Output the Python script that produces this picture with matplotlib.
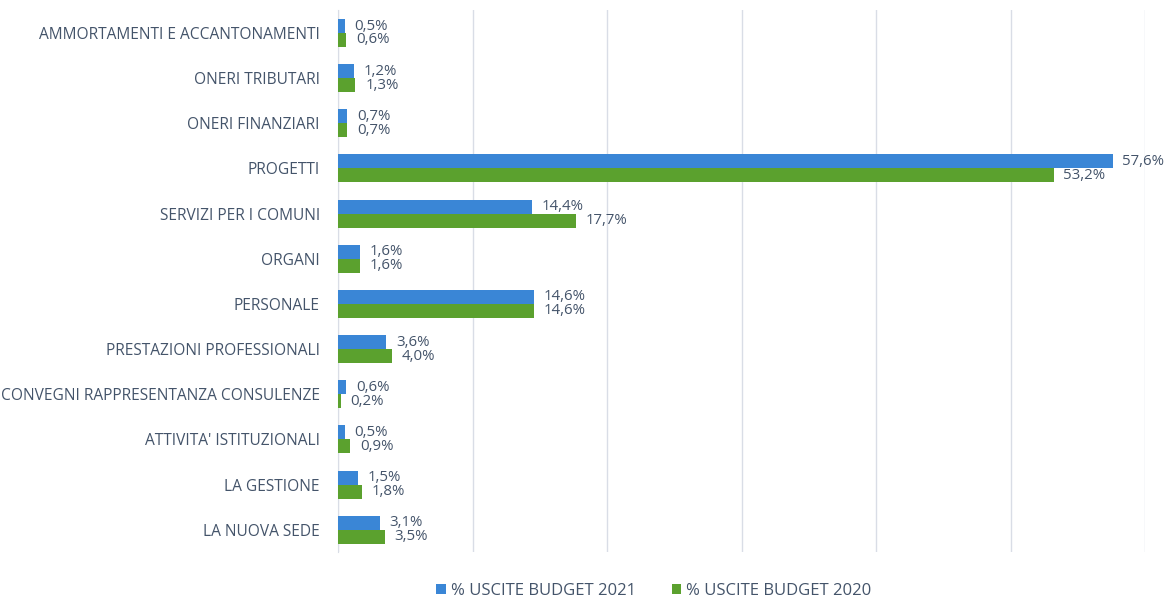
import matplotlib
matplotlib.use("Agg")
import matplotlib.pyplot as plt
import numpy as np

categories = ["AMMORTAMENTI E ACCANTONAMENTI", "ONERI TRIBUTARI", "ONERI FINANZIARI",
              "PROGETTI", "SERVIZI PER I COMUNI", "ORGANI", "PERSONALE",
              "PRESTAZIONI PROFESSIONALI", "CONVEGNI RAPPRESENTANZA CONSULENZE",
              "ATTIVITA' ISTITUZIONALI", "LA GESTIONE", "LA NUOVA SEDE"]
budget_2021 = [0.5, 1.2, 0.7, 57.6, 14.4, 1.6, 14.6, 3.6, 0.6, 0.5, 1.5, 3.1]
budget_2020 = [0.6, 1.3, 0.7, 53.2, 17.7, 1.6, 14.6, 4.0, 0.2, 0.9, 1.8, 3.5]
series_names = ["% USCITE BUDGET 2021", "% USCITE BUDGET 2020"]

plt.rcParams['font.family'] = ['Open Sans', 'DejaVu Sans']
text_color = "#44546a"
blue = "#3a86d6"
green = "#5ba12e"

fig = plt.figure(figsize=(11.72, 5.99), dpi=100)
ax = fig.add_axes([0.2884, 0.078, 0.9770 - 0.2884, 0.9826 - 0.078])

y = np.arange(len(categories))
h = 0.31
b1 = ax.barh(y - h / 2, budget_2021, height=h, color=blue, label=series_names[0], zorder=3)
b2 = ax.barh(y + h / 2, budget_2020, height=h, color=green, label=series_names[1], zorder=3)

def fmt(v):
    return f"{v:.1f}%".replace(".", ",")

for bars, vals in ((b1, budget_2021), (b2, budget_2020)):
    for rect, v in zip(bars, vals):
        ax.annotate(fmt(v), (v, rect.get_y() + rect.get_height() / 2),
                    xytext=(7, 0), textcoords="offset points",
                    ha="left", va="center", fontsize=10.8, color=text_color)

ax.set_xlim(0, 60)
ax.set_ylim(len(categories) - 0.5, -0.5)
ax.set_xticks(np.arange(0, 61, 10))
ax.set_xticklabels([])
ax.tick_params(axis="x", length=0)
ax.set_yticks(y)
ax.set_yticklabels(categories, fontsize=11.2, color=text_color)
ax.tick_params(axis="y", length=0, pad=13)
ax.grid(axis="x", color="#d9dde6", linewidth=1, zorder=0)
for s in ("top", "right", "bottom"):
    ax.spines[s].set_visible(False)
ax.spines["left"].set_color("#d9dde6")

leg = fig.legend(handles=[b1, b2], labels=series_names, loc="center",
                 bbox_to_anchor=(0.558, 0.014), ncol=2, frameon=False,
                 fontsize=12, handlelength=0.55, handleheight=0.55,
                 handletextpad=0.3, columnspacing=2.2)
for t in leg.get_texts():
    t.set_color(text_color)

fig.savefig("out.png", dpi=100)
